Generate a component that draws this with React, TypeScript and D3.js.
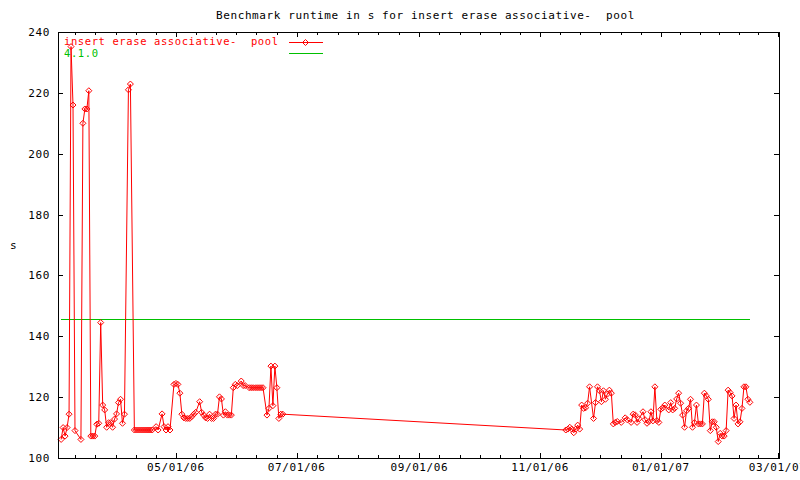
import React from "react";
import * as d3 from "d3";

const TITLE = "Benchmark runtime in s for insert erase associative-  pool";
const SERIES_NAME = "insert erase associative-  pool";
const REF_NAME = "4.1.0";
const REF_VALUE = 145.6;

const dates: string[] = [
  "2006-03-04","2006-03-05","2006-03-06","2006-03-07","2006-03-08","2006-03-09","2006-03-10","2006-03-11",
  "2006-03-14","2006-03-15","2006-03-16","2006-03-17","2006-03-18","2006-03-19","2006-03-20","2006-03-21",
  "2006-03-22","2006-03-23","2006-03-24","2006-03-25","2006-03-26","2006-03-27","2006-03-28","2006-03-29",
  "2006-03-30","2006-03-31","2006-04-01","2006-04-02","2006-04-03","2006-04-04","2006-04-05","2006-04-07",
  "2006-04-08","2006-04-10","2006-04-11","2006-04-12","2006-04-13","2006-04-14","2006-04-15","2006-04-16",
  "2006-04-17","2006-04-18","2006-04-19","2006-04-21","2006-04-22","2006-04-24","2006-04-25","2006-04-26",
  "2006-04-27","2006-04-28","2006-04-30","2006-05-01","2006-05-02","2006-05-03","2006-05-04","2006-05-05",
  "2006-05-06","2006-05-07","2006-05-08","2006-05-09","2006-05-10","2006-05-11","2006-05-13","2006-05-14",
  "2006-05-15","2006-05-16","2006-05-17","2006-05-18","2006-05-19","2006-05-20","2006-05-21","2006-05-22",
  "2006-05-23","2006-05-24","2006-05-25","2006-05-26","2006-05-27","2006-05-28","2006-05-29","2006-05-30",
  "2006-05-31","2006-06-01","2006-06-03","2006-06-04","2006-06-05","2006-06-07","2006-06-08","2006-06-09",
  "2006-06-10","2006-06-11","2006-06-12","2006-06-13","2006-06-14","2006-06-16","2006-06-17","2006-06-18",
  "2006-06-19","2006-06-20","2006-06-21","2006-06-22","2006-06-23","2006-06-24",
  "2006-11-14","2006-11-15","2006-11-16","2006-11-17","2006-11-18","2006-11-19","2006-11-20","2006-11-21",
  "2006-11-22","2006-11-23","2006-11-24","2006-11-25","2006-11-26","2006-11-28","2006-11-29","2006-11-30",
  "2006-12-01","2006-12-02","2006-12-03","2006-12-04","2006-12-05","2006-12-06","2006-12-07","2006-12-08",
  "2006-12-09","2006-12-10","2006-12-12","2006-12-14","2006-12-15","2006-12-17","2006-12-18","2006-12-19",
  "2006-12-20","2006-12-21","2006-12-23","2006-12-24","2006-12-25","2006-12-26","2006-12-27","2006-12-28",
  "2006-12-29","2006-12-30","2006-12-31",
  "2007-01-01","2007-01-02","2007-01-03","2007-01-05","2007-01-06","2007-01-07","2007-01-08","2007-01-09",
  "2007-01-10","2007-01-11","2007-01-12","2007-01-13","2007-01-14","2007-01-15","2007-01-16","2007-01-17",
  "2007-01-18","2007-01-19","2007-01-20","2007-01-21","2007-01-22","2007-01-23","2007-01-24","2007-01-25",
  "2007-01-26","2007-01-27","2007-01-28","2007-01-29","2007-01-30","2007-01-31","2007-02-01","2007-02-02",
  "2007-02-03","2007-02-04","2007-02-05","2007-02-06","2007-02-07","2007-02-08","2007-02-09","2007-02-10",
  "2007-02-11","2007-02-12","2007-02-13","2007-02-14","2007-02-15",
];

const values: number[] = [
  106.1,110.0,107.2,110.0,114.4,235.2,216.0,109.0,
  106.1,210.0,214.7,214.7,220.7,107.2,107.2,107.2,
  111.1,111.4,144.5,117.4,115.8,110.1,111.6,111.6,
  110.1,112.8,114.5,118.2,119.3,111.4,114.4,221.0,
  222.9,109.2,109.2,109.2,109.2,109.2,109.2,109.2,
  109.2,109.2,109.2,110.3,109.2,114.5,110.3,109.2,
  110.3,109.2,124.2,124.5,124.2,121.3,114.4,113.2,
  113.0,113.0,113.0,113.6,114.4,115.0,118.5,115.0,
  114.1,113.2,113.0,114.4,113.0,113.0,114.4,114.4,
  120.1,119.4,114.1,115.2,114.1,114.1,114.1,123.1,
  124.2,123.8,125.3,123.8,123.8,123.1,123.1,123.1,
  123.1,123.1,123.1,123.1,123.1,114.1,116.3,130.2,
  117.2,130.2,123.1,113.0,114.4,114.4,
  109.2,109.5,110.1,109.5,108.3,109.5,110.8,109.5,
  117.4,116.3,116.5,118.0,123.4,113.0,118.2,123.4,
  122.1,118.5,122.1,119.3,121.0,122.3,121.3,111.2,
  111.7,112.0,111.7,113.2,112.6,111.7,114.4,114.2,
  111.7,112.9,115.2,112.6,111.4,112.0,115.2,112.2,
  123.4,112.3,111.7,
  116.0,116.5,117.4,115.8,118.2,115.8,116.3,119.4,
  121.3,118.0,114.1,110.1,115.5,116.3,119.3,110.1,
  111.6,117.4,111.2,111.2,111.2,121.3,120.4,119.3,
  109.0,111.9,111.9,110.1,105.4,108.1,107.2,107.2,
  109.0,122.3,121.5,120.4,113.0,117.4,111.2,111.9,
  116.3,123.4,123.4,119.3,118.3,
];

const majorTickDates: string[] = ["2006-05-01","2006-07-01","2006-09-01","2006-11-01","2007-01-01","2007-03-01"];
const yTicks: number[] = [100, 120, 140, 160, 180, 200, 220, 240];
const xDomain: string[] = ["2006-03-02T10:00:00Z", "2007-03-01T17:00:00Z"];
const yDomain: number[] = [100, 240];

const W = 800, H = 480;
const L = 58, R = 779, T = 32, B = 458;
const RED = "#ff0000";
const GREEN = "#00c000";
const FONT = "'DejaVu Sans Mono', monospace";

const parse = (s: string) => new Date(s.length === 10 ? s + "T00:00:00Z" : s);

export default function App() {
  const data = dates.map((d, i) => ({ date: parse(d), value: values[i] }));
  const x = d3.scaleUtc().domain(xDomain.map(parse)).range([L, R]);
  const y = d3.scaleLinear().domain(yDomain).range([B, T]);
  const line = d3.line<{ date: Date; value: number }>().x(d => x(d.date)).y(d => y(d.value));
  const fmt = d3.utcFormat("%m/%d/%y");

  const majors = majorTickDates.map(parse);
  const minors: Date[] = [];
  for (let i = 0; i < majors.length - 1; i++) {
    const a = +majors[i], b = +majors[i + 1];
    for (let k = 1; k < 6; k++) minors.push(new Date(a + (b - a) * k / 6));
  }
  {
    const a = +majors[0], step = (+majors[1] - a) / 6;
    for (let k = 1; k < 6; k++) {
      const t = new Date(a - step * k);
      if (x(t) > L + 1) minors.push(t);
    }
  }

  const first = data[0].date, last = data[data.length - 1].date;
  const textStyle = { fontFamily: FONT, fontSize: 11, letterSpacing: 0.6, style: { whiteSpace: "pre" as const } };
  const legendStyle = { ...textStyle, fontSize: 10.5, letterSpacing: 0.6 };

  const diamond = (cx: number, cy: number) =>
    `M${cx},${cy - 3}L${cx + 3},${cy}L${cx},${cy + 3}L${cx - 3},${cy}Z`;

  const refY = Math.round(y(REF_VALUE));

  return (
    <svg width={W} height={H} style={{ position: "fixed", left: 0, top: 0, background: "#fff" }}>
      <rect x={0} y={0} width={W} height={H} fill="#fff" />
      <text x={216} y={19} {...textStyle} fill="#000">{TITLE}</text>
      <text x={10} y={249} {...textStyle} fill="#000">s</text>

      {/* ticks */}
      <g stroke="#000" strokeWidth={1} shapeRendering="crispEdges">
        {yTicks.map(v => (
          <g key={"y" + v}>
            <line x1={L} x2={L + 5} y1={Math.round(y(v)) + 0.5} y2={Math.round(y(v)) + 0.5} />
            <line x1={R - 5} x2={R} y1={Math.round(y(v)) + 0.5} y2={Math.round(y(v)) + 0.5} />
          </g>
        ))}
        {majors.map((d, i) => {
          const px = Math.round(x(d)) + 0.5;
          return (
            <g key={"mx" + i}>
              <line x1={px} x2={px} y1={B} y2={B - 5} />
              <line x1={px} x2={px} y1={T} y2={T + 5} />
            </g>
          );
        })}
        {minors.map((d, i) => {
          const px = Math.round(x(d)) + 0.5;
          return (
            <g key={"nx" + i}>
              <line x1={px} x2={px} y1={B} y2={B - 3} />
              <line x1={px} x2={px} y1={T} y2={T + 3} />
            </g>
          );
        })}
      </g>

      {yTicks.map(v => (
        <text key={"yl" + v} x={50} y={y(v) + 4} textAnchor="end" {...textStyle} fill="#000">{v}</text>
      ))}
      {majors.map((d, i) => (
        <text key={"xl" + i} x={x(d)} y={471} textAnchor="middle" {...textStyle} fill="#000">{fmt(d)}</text>
      ))}

      {/* reference line */}
      <rect x={x(first)} width={x(last) - x(first)} y={refY} height={1} fill={GREEN} shapeRendering="crispEdges" />

      {/* series */}
      <path d={line(data) || ""} fill="none" stroke={RED} strokeWidth={1} />
      <g fill="none" stroke={RED} strokeWidth={1}>
        {data.map((d, i) => (
          <path key={"m" + i} d={diamond(x(d.date), y(d.value))} />
        ))}
      </g>

      {/* legend */}
      <text x={64} y={45} {...legendStyle} fill={RED}>{SERIES_NAME}</text>
      <rect x={289} width={34} y={42} height={1} fill={RED} shapeRendering="crispEdges" />
      <path d={diamond(305.5, 42.5)} fill="none" stroke={RED} strokeWidth={1} />
      <text x={64} y={57} {...legendStyle} fill={GREEN}>{REF_NAME}</text>
      <rect x={289} width={34} y={53} height={1} fill={GREEN} shapeRendering="crispEdges" />

      {/* border */}
      <rect x={L + 0.5} y={T + 0.5} width={R - L} height={B - T} fill="none" stroke="#000" strokeWidth={1} shapeRendering="crispEdges" />
    </svg>
  );
}
